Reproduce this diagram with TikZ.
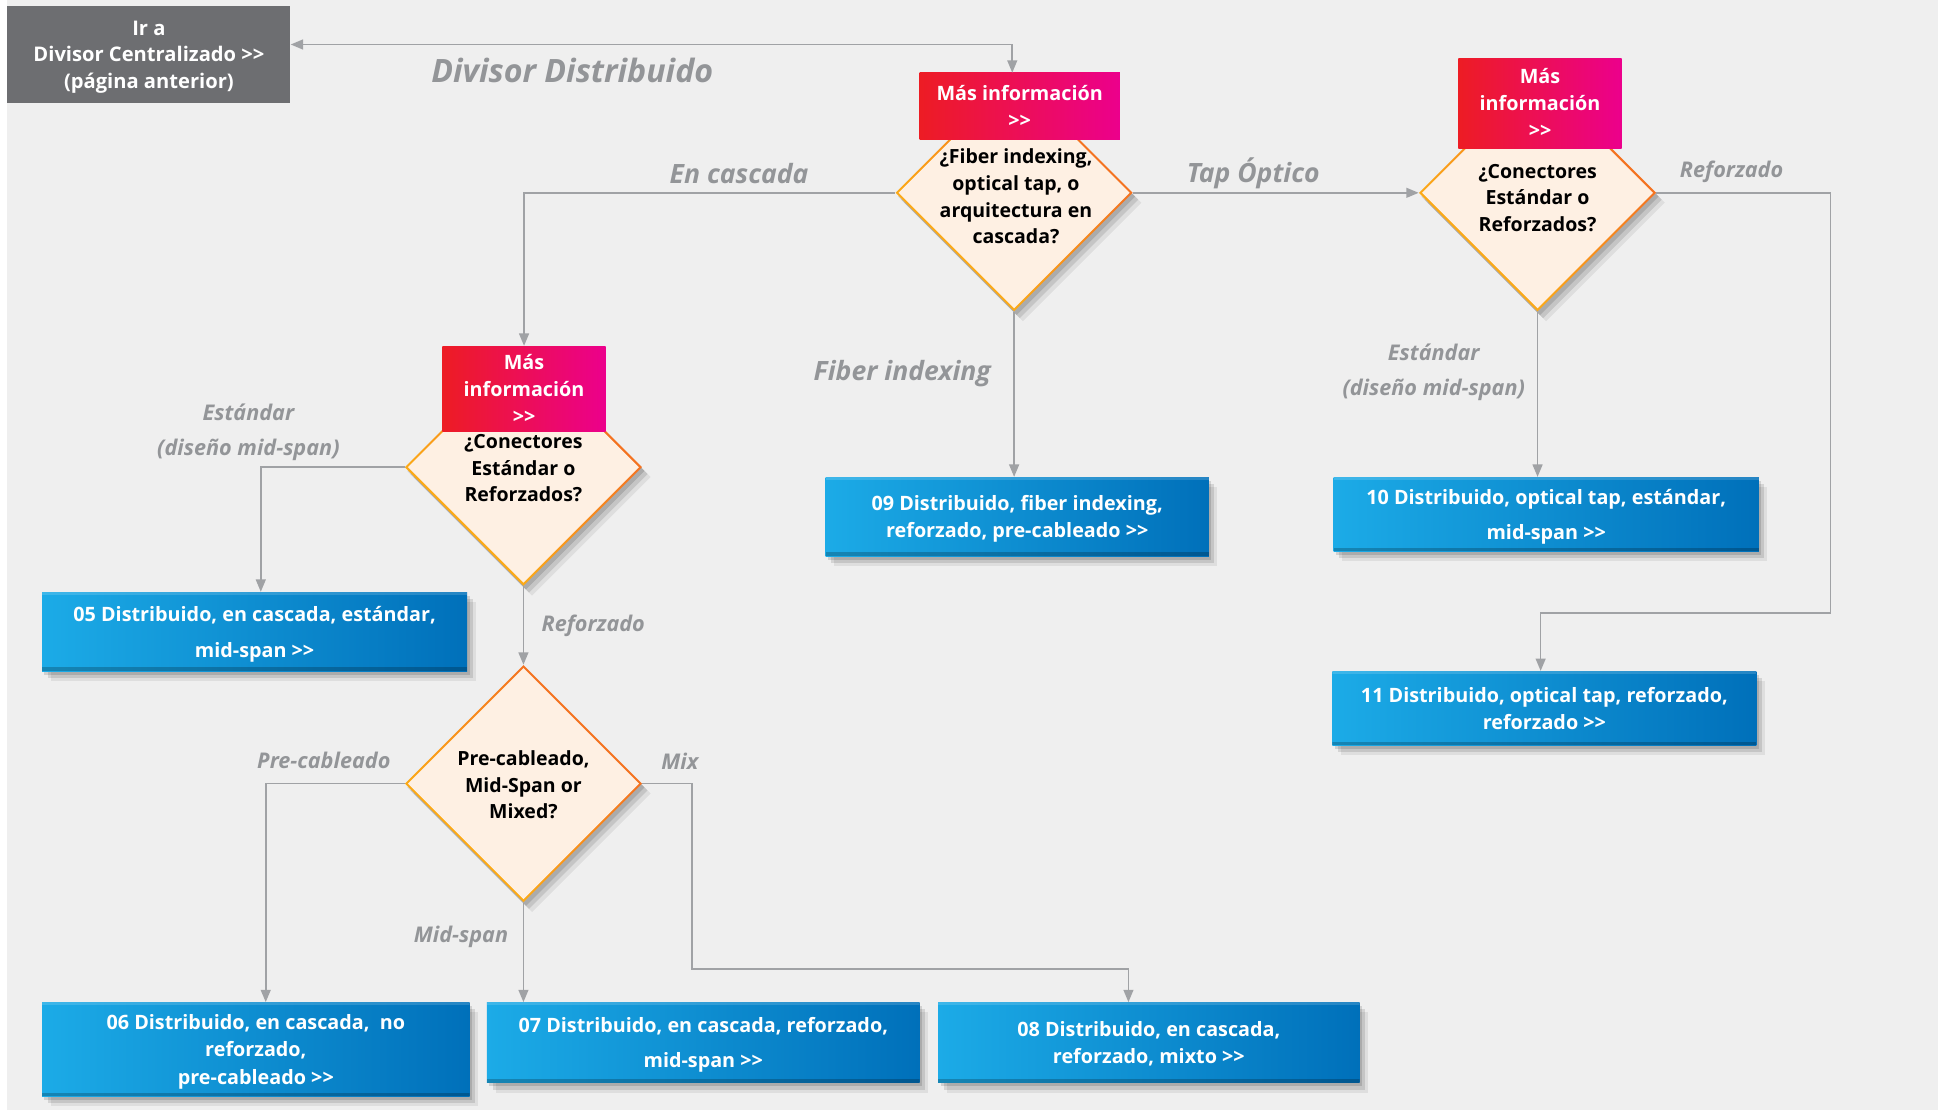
\documentclass[tikz,border=0pt]{standalone}
\usepackage{fontspec}
\setmainfont{Open Sans}
\usetikzlibrary{arrows.meta,shapes.geometric,shadows}
\definecolor{bgc}{HTML}{EFEFEF}
\definecolor{darkbox}{HTML}{6D6E71}
\definecolor{linec}{HTML}{A0A2A5}
\definecolor{labc}{HTML}{939598}
\definecolor{redL}{HTML}{ED1C24}
\definecolor{redR}{HTML}{EC008C}
\definecolor{peach}{HTML}{FEF0E3}
\definecolor{dyel}{HTML}{FDB515}
\definecolor{dora}{HTML}{F26722}
\definecolor{blueL}{HTML}{1CABE7}
\definecolor{blueD}{HTML}{0070BA}
\newcommand{\gtgt}{>{}>}
\tikzset{
  conn/.style={draw=linec, line width=1.3pt, -{Triangle[length=10pt,width=8pt]}},
  connboth/.style={draw=linec, line width=1.3pt, {Triangle[length=10pt,width=8pt]}-{Triangle[length=10pt,width=8pt]}},
  shad/.style={
    general shadow={shadow xshift=2pt, shadow yshift=-3pt, opacity=0.13, fill=black},
    general shadow={shadow xshift=4.5pt, shadow yshift=-5.5pt, opacity=0.11, fill=black},
    general shadow={shadow xshift=7pt, shadow yshift=-8pt, opacity=0.07, fill=black}},
  bluebox/.style={rectangle, inner sep=0pt, left color=blueL, right color=blueD, text=white, align=center, shad,
     font=\fontsize{16}{22}\selectfont\bfseries, text depth=-2pt,
     path picture={
       \fill[black,opacity=0.22] (path picture bounding box.south west) rectangle ([yshift=3pt]path picture bounding box.south east);
       \fill[white,opacity=0.15] (path picture bounding box.north west) rectangle ([yshift=-2pt]path picture bounding box.north east);}},
  redbox/.style={rectangle, inner sep=0pt, left color=redL, right color=redR, text=white, align=center,
     font=\fontsize{16}{22}\selectfont\bfseries},
  dout/.style={diamond, shape aspect=1, inner sep=0pt, minimum width=192pt, minimum height=192pt, shad,
     top color=dora, bottom color=dyel, shading angle=-45},
  din/.style={diamond, shape aspect=1, inner sep=0pt, minimum width=187pt, minimum height=187pt, fill=peach},
  dtext/.style={align=center, inner sep=0pt, font=\fontsize{15.8}{21.5}\selectfont\bfseries},
  biglab/.style={text=labc, inner sep=0pt, font=\fontsize{21.5}{26}\selectfont\bfseries\itshape},
  smlab/.style={text=labc, inner sep=0pt, align=center, font=\fontsize{17.5}{28}\selectfont\bfseries\itshape},
}
\begin{document}
\begin{tikzpicture}[x=1pt,y=-1pt]
\path[fill=white] (0,0) rectangle (1568,898);
\fill[bgc] (6,0) rectangle (1568,898);
\useasboundingbox (0,0) rectangle (1568,898);

% dark box
\node[rectangle, fill=darkbox, text=white, minimum width=229pt, minimum height=78pt, inner sep=0pt, align=center,
  text depth=-2pt, font=\fontsize{16.3}{21.5}\selectfont\bfseries] (dark) at (120.5,44)
  {Ir a\\Divisor Centralizado \gtgt\\(página anterior)};
\node[text=labc, inner sep=0pt, font=\fontsize{26}{30}\selectfont\bfseries\itshape] (ldd) at (463,57) {Divisor Distribuido};

% diamonds
\node[dout] (d1) at (820.5,156) {};
\node[din] (d1in) at (d1) {};
\node[dtext] (d1t) at (822,159) {¿Fiber indexing,\\optical tap, o\\arquitectura en\\cascada?};

\node[dout] (d3) at (1244,156) {};
\node[din] (d3in) at (d3) {};
\node[dtext] (d3t) at (1244,160) {¿Conectores\\Estándar o\\Reforzados?};

\node[dout] (d2) at (423.5,378) {};
\node[din] (d2in) at (d2) {};
\node[dtext] (d2t) at (423.5,379) {¿Conectores\\Estándar o\\Reforzados?};

\node[dout] (d4) at (423.5,634) {};
\node[din] (d4in) at (d4) {};
\node[dtext] (d4t) at (423.5,635) {Pre-cableado,\\Mid-Span or\\Mixed?};

% red boxes
\node[redbox, minimum width=162pt, minimum height=54pt] (rb1) at (825,86) {Más información\\\gtgt};
\node[redbox, minimum width=132pt, minimum height=69pt] (rb2) at (424,314.5) {Más\\información\\\gtgt};
\node[redbox, minimum width=132pt, minimum height=73pt] (rb3) at (1246,83.5) {Más\\información\\\gtgt};

% blue boxes
\node[bluebox, minimum width=344pt, minimum height=64pt, font=\fontsize{16}{29}\selectfont\bfseries] (b05) at (206,511)
  {05 Distribuido, en cascada, estándar,\\mid-span \gtgt};
\node[bluebox, minimum width=346pt, minimum height=76pt, font=\fontsize{16}{22}\selectfont\bfseries] (b06) at (207,849)
  {06 Distribuido, en cascada,\ \ no\\reforzado,\\pre-cableado \gtgt};
\node[bluebox, minimum width=350pt, minimum height=65pt, font=\fontsize{16}{28}\selectfont\bfseries] (b07) at (569,843.5)
  {07 Distribuido, en cascada, reforzado,\\mid-span \gtgt};
\node[bluebox, minimum width=341pt, minimum height=65pt] (b08) at (929.5,843.5)
  {08 Distribuido, en cascada,\\reforzado, mixto \gtgt};
\node[bluebox, minimum width=310pt, minimum height=64pt] (b09) at (823,418)
  {09 Distribuido, fiber indexing,\\reforzado, pre-cableado \gtgt};
\node[bluebox, minimum width=344pt, minimum height=60pt, font=\fontsize{16}{28}\selectfont\bfseries] (b10) at (1251,416)
  {10 Distribuido, optical tap, estándar,\\mid-span \gtgt};
\node[bluebox, minimum width=343pt, minimum height=60pt] (b11) at (1249.5,573)
  {11 Distribuido, optical tap, reforzado,\\reforzado \gtgt};

% coordinates
\coordinate (cTop) at (819,36);
\coordinate (r11) at (1481,496);
\coordinate (cMix) at (560,784);
\coordinate (c08) at (913,784);

% connectors
\draw[connboth] (dark.east |- cTop) -- (cTop) -- (cTop |- rb1.north);
\draw[conn] (d1.west) -| (rb2.north);
\draw[conn] (d1.east) -- (d3.west);
\draw[conn] (d1.south) -- (d1.south |- b09.north);
\draw[conn] (d3.south) -- (d3.south |- b10.north);
\draw[conn] (d3.east) -| (r11) -| ([xshift=-3pt]b11.north);
\draw[conn] (d2.west) -| ([xshift=5pt]b05.north);
\draw[conn] (d2.south) -- (d4.north);
\draw[conn] (d4.west) -| ([xshift=8pt]b06.north);
\draw[conn] (d4.south) -- (d4.south |- b07.north);
\draw[conn] (d4.east) -| (cMix) -- (c08) -- (c08 |- b08.north);

% labels
\node[biglab] (lcas) at (598,140) {En cascada};
\node[biglab] (ltap) at (1014,140) {Tap Óptico};
\node[biglab] (lfib) at (730,302) {Fiber indexing};
\node[smlab] (lref1) at (1401,139) {Reforzado};
\node[smlab] (lest1) at (1160,301) {Estándar\\(diseño mid-span)};
\node[smlab] (lest2) at (201,350) {Estándar\\(diseño mid-span)};
\node[smlab] (lref2) at (480,506) {Reforzado};
\node[smlab] (lpre) at (262,615) {Pre-cableado};
\node[smlab] (lmix) at (550,616) {Mix};
\node[smlab] (lmid) at (373,758) {Mid-span};
\end{tikzpicture}
\end{document}
